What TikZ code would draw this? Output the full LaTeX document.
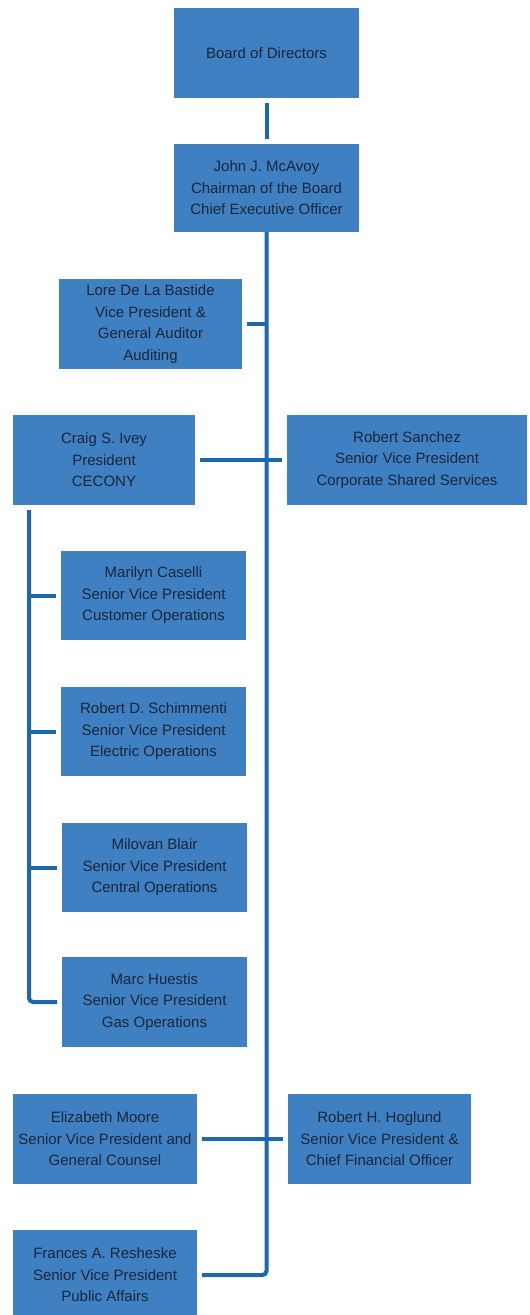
\documentclass[tikz,border=0pt]{standalone}
\usepackage{fontspec}
\setmainfont{Liberation Sans}
\usetikzlibrary{calc}
\definecolor{boxblue}{RGB}{62,128,194}
\definecolor{lineblue}{RGB}{28,104,176}
\definecolor{txt}{RGB}{28,38,56}
\begin{document}
\begin{tikzpicture}[x=1pt,y=1pt,
  person/.style={rectangle, fill=boxblue, draw=none, text=txt, align=center,
    inner sep=0pt, outer sep=5pt,
    font=\fontsize{15}{21.5}\selectfont},
  link/.style={draw=lineblue, line width=4pt}]
\useasboundingbox (0,0) rectangle (530,-1315);
\clip (0,0) rectangle (530,-1315);
% boxes: centre (x,-y), size
\node[person, minimum width=185, minimum height=90] (board) at (266.5,-53) {Board of Directors};
\node[person, minimum width=185, minimum height=88] (mcavoy) at (266.5,-188) {John J. McAvoy\\Chairman of the Board\\Chief Executive Officer};
\node[person, minimum width=183, minimum height=90] (lore) at (150.5,-324) {Lore De La Bastide\\Vice President \&\\General Auditor\\Auditing};
\node[person, minimum width=182, minimum height=90] (ivey) at (104,-460) {Craig S. Ivey\\President\\CECONY};
\node[person, minimum width=240, minimum height=90] (sanchez) at (407,-460) {Robert Sanchez\\Senior Vice President\\Corporate Shared Services};
\node[person, minimum width=185, minimum height=89] (caselli) at (153.5,-595.5) {Marilyn Caselli\\Senior Vice President\\Customer Operations};
\node[person, minimum width=185, minimum height=89] (schim) at (153.5,-731.5) {Robert D. Schimmenti\\Senior Vice President\\Electric Operations};
\node[person, minimum width=185, minimum height=89] (blair) at (154.5,-867.5) {Milovan Blair\\Senior Vice President\\Central Operations};
\node[person, minimum width=185, minimum height=90] (huestis) at (154.5,-1002) {Marc Huestis\\Senior Vice President\\Gas Operations};
\node[person, minimum width=184, minimum height=90] (moore) at (105,-1139) {Elizabeth Moore\\Senior Vice President and\\General Counsel};
\node[person, minimum width=183, minimum height=90] (hoglund) at (379.5,-1139) {Robert H. Hoglund\\Senior Vice President \&\\Chief Financial Officer};
\node[person, minimum width=184, minimum height=90] (reshes) at (105,-1275) {Frances A. Resheske\\Senior Vice President\\Public Affairs};
% connector helper points
\coordinate (mtop) at ($(mcavoy.south)+(0,5)$);
\coordinate (itop) at ($(ivey.south west)+(21,0)$);
% connectors
\draw[link] (board.south) -- (mcavoy.north);
\draw[link, rounded corners=4pt] (mtop) |- (reshes.east);
\draw[link] (lore.east) -- (lore.east -| mtop);
\draw[link] (ivey.east) -- (sanchez.west);
\draw[link] (moore.east) -- (hoglund.west);
\draw[link, rounded corners=4pt] (itop) |- (huestis.west);
\draw[link] (caselli.west -| itop) -- (caselli.west);
\draw[link] (schim.west -| itop) -- (schim.west);
\draw[link] (blair.west -| itop) -- (blair.west);
\end{tikzpicture}
\end{document}
